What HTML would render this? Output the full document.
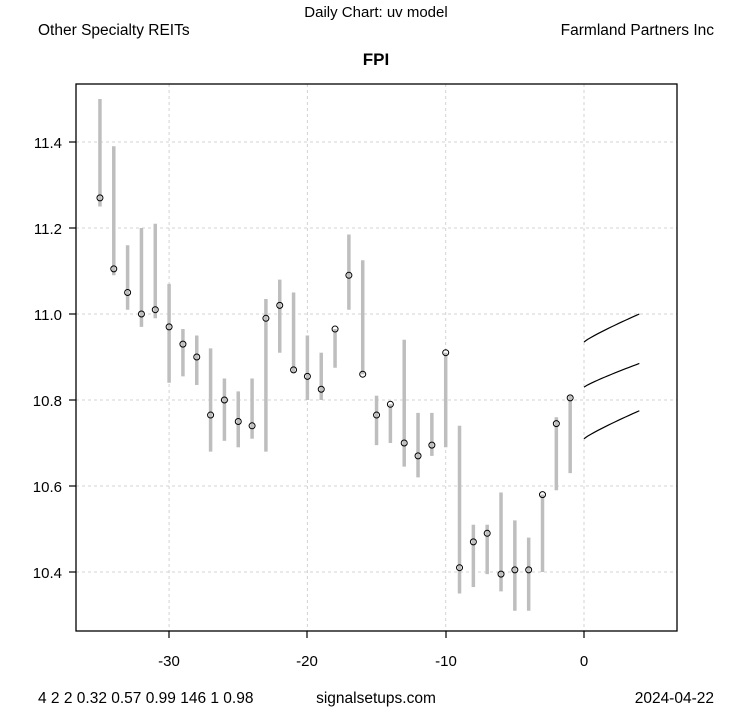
<!DOCTYPE html>
<html><head><meta charset="utf-8"><style>
body{margin:0;background:#fff;}
svg text{font-family:"Liberation Sans",Arial,sans-serif;}
</style></head><body>
<svg id="s" width="753" height="708" xmlns="http://www.w3.org/2000/svg">
<rect width="753" height="708" fill="#fff"/>
<text x="376" y="17" font-size="15" text-anchor="middle">Daily Chart: uv model</text>
<text x="38" y="35" font-size="15.5">Other Specialty REITs</text>
<text x="714" y="35" font-size="15.5" text-anchor="end">Farmland Partners Inc</text>
<text x="376" y="65" font-size="17" font-weight="bold" text-anchor="middle">FPI</text>
<g id="grid" stroke="#d3d3d3" stroke-dasharray="3,3" stroke-width="1"></g>
<g id="bars" stroke="#bebebe" stroke-width="3.5"></g>
<g id="pts" fill="none" stroke="#000" stroke-width="1"></g>
<g id="fc" fill="none" stroke="#000" stroke-width="1.2"></g>
<rect x="76" y="84" width="601" height="547" fill="none" stroke="#000" stroke-width="1.3"/>
<g stroke="#000" stroke-width="1.2">
<line x1="169" y1="631" x2="169" y2="638"/><line x1="307" y1="631" x2="307" y2="638"/>
<line x1="446" y1="631" x2="446" y2="638"/><line x1="584" y1="631" x2="584" y2="638"/>
<line x1="69" y1="142" x2="76" y2="142"/><line x1="69" y1="228" x2="76" y2="228"/>
<line x1="69" y1="314" x2="76" y2="314"/><line x1="69" y1="400" x2="76" y2="400"/>
<line x1="69" y1="486" x2="76" y2="486"/><line x1="69" y1="572" x2="76" y2="572"/>
</g>
<g font-size="15" text-anchor="middle">
<text x="169" y="666">-30</text><text x="307" y="666">-20</text><text x="446" y="666">-10</text><text x="584" y="666">0</text>
</g>
<g font-size="15" text-anchor="end">
<text x="62" y="148">11.4</text><text x="62" y="234">11.2</text><text x="62" y="320">11.0</text>
<text x="62" y="406">10.8</text><text x="62" y="492">10.6</text><text x="62" y="578">10.4</text>
</g>
<text x="38" y="703" font-size="15.5">4 2 2 0.32 0.57 0.99 146 1 0.98</text>
<text x="376" y="703" font-size="15.5" text-anchor="middle">signalsetups.com</text>
<text x="714" y="703" font-size="15.5" text-anchor="end">2024-04-22</text>
</svg>
<script>
var X=function(d){return 584+13.83*d},Y=function(v){return 572-(v-10.4)*430};
var NS="http://www.w3.org/2000/svg";
function el(p,t,a){var e=document.createElementNS(NS,t);for(var k in a)e.setAttribute(k,a[k]);document.getElementById(p).appendChild(e);}
[-30,-20,-10,0].forEach(function(d){el("grid","line",{x1:X(d),y1:84,x2:X(d),y2:631});});
[11.4,11.2,11.0,10.8,10.6,10.4].forEach(function(v){el("grid","line",{x1:76,y1:Y(v),x2:677,y2:Y(v)});});
var D=[[11.27,11.25,11.50],[11.105,11.09,11.39],[11.05,11.01,11.16],[11.0,10.97,11.2],[11.01,10.99,11.21],
[10.97,10.84,11.07],[10.93,10.855,10.965],[10.9,10.835,10.95],[10.765,10.68,10.92],[10.8,10.705,10.85],
[10.75,10.69,10.82],[10.74,10.71,10.85],[10.99,10.68,11.035],[11.02,10.91,11.08],[10.87,10.865,11.05],
[10.855,10.8,10.95],[10.825,10.8,10.91],[10.965,10.875,10.965],[11.09,11.01,11.185],[10.86,10.86,11.125],
[10.765,10.695,10.81],[10.79,10.7,10.79],[10.7,10.645,10.94],[10.67,10.62,10.77],[10.695,10.67,10.77],
[10.91,10.69,10.91],[10.41,10.35,10.74],[10.47,10.365,10.51],[10.49,10.395,10.51],[10.395,10.355,10.585],
[10.405,10.31,10.52],[10.405,10.31,10.48],[10.58,10.40,10.58],[10.745,10.59,10.76],[10.805,10.63,10.81]];
D.forEach(function(r,i){var d=i-35,x=X(d);
el("bars","line",{x1:x,y1:Y(r[1]),x2:x,y2:Y(r[2])});
el("pts","circle",{cx:x,cy:Y(r[0]),r:3});});
[[10.935,11.0],[10.83,10.885],[10.71,10.775]].forEach(function(f){
var p=[];for(var t=0;t<=4;t+=0.25){var v=f[0]+(f[1]-f[0])*Math.pow(t/4,0.88);p.push(X(t)+","+Y(v));}
el("fc","polyline",{points:p.join(" ")});});
</script>
</body></html>
